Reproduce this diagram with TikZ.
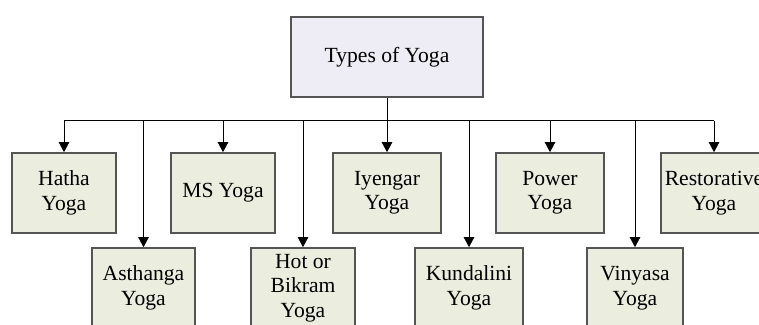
\documentclass[tikz,border=0pt]{standalone}
\usepackage{fontspec}
\setmainfont{Liberation Serif}
\usepackage{xcolor}
\usetikzlibrary{arrows.meta, positioning}
\definecolor{toplav}{RGB}{238,236,245}
\definecolor{leafgreen}{RGB}{235,238,223}
\definecolor{boxline}{RGB}{85,85,85}
\tikzset{
  yogabox/.style={draw=boxline, line width=0.8pt, fill=leafgreen, minimum width=52pt,
    minimum height=40pt, align=center, inner sep=2pt, font=\fontsize{10.8}{12.2}\selectfont},
  link/.style={line width=0.5pt, -{Triangle[length=5pt,width=5.2pt]}}
}
\begin{document}
\begin{tikzpicture}[x=0.5pt,y=-0.5pt]
  \useasboundingbox (0,0) rectangle (759,325);
  \node[yogabox,fill=toplav,minimum width=96pt] (types) at (387,57) {Types of Yoga};
  % first row
  \node[yogabox] (hatha) at (64,193) {Hatha\\Yoga};
  \node[yogabox] (ms) at (223,193) {MS Yoga};
  \node[yogabox,minimum width=54pt] (iyengar) at (387,193) {Iyengar\\Yoga};
  \node[yogabox,minimum width=54pt] (power) at (550,193) {Power\\Yoga};
  \node[yogabox] (restor) at (714,193) {Restorative\\Yoga};
  % second row
  \node[yogabox,minimum width=51.5pt] (asth) at (143.5,288) {Asthanga\\Yoga};
  \node[yogabox] (hot) at (303,288) {Hot or\\Bikram\\Yoga};
  \node[yogabox,minimum width=54pt] (kund) at (469,288) {Kundalini\\Yoga};
  \node[yogabox,minimum width=48pt] (vin) at (635,288) {Vinyasa\\Yoga};
  % connectors
  \coordinate (bus) at (0,121);
  \draw[line width=0.5pt] (types.south) -- (types.south |- bus);
  \draw[line width=0.5pt] (hatha.north |- bus) -- (restor.north |- bus);
  \foreach \n in {hatha,asth,ms,hot,iyengar,kund,power,vin,restor}
    \draw[link] (\n.north |- bus) -- (\n.north);
\end{tikzpicture}
\end{document}
